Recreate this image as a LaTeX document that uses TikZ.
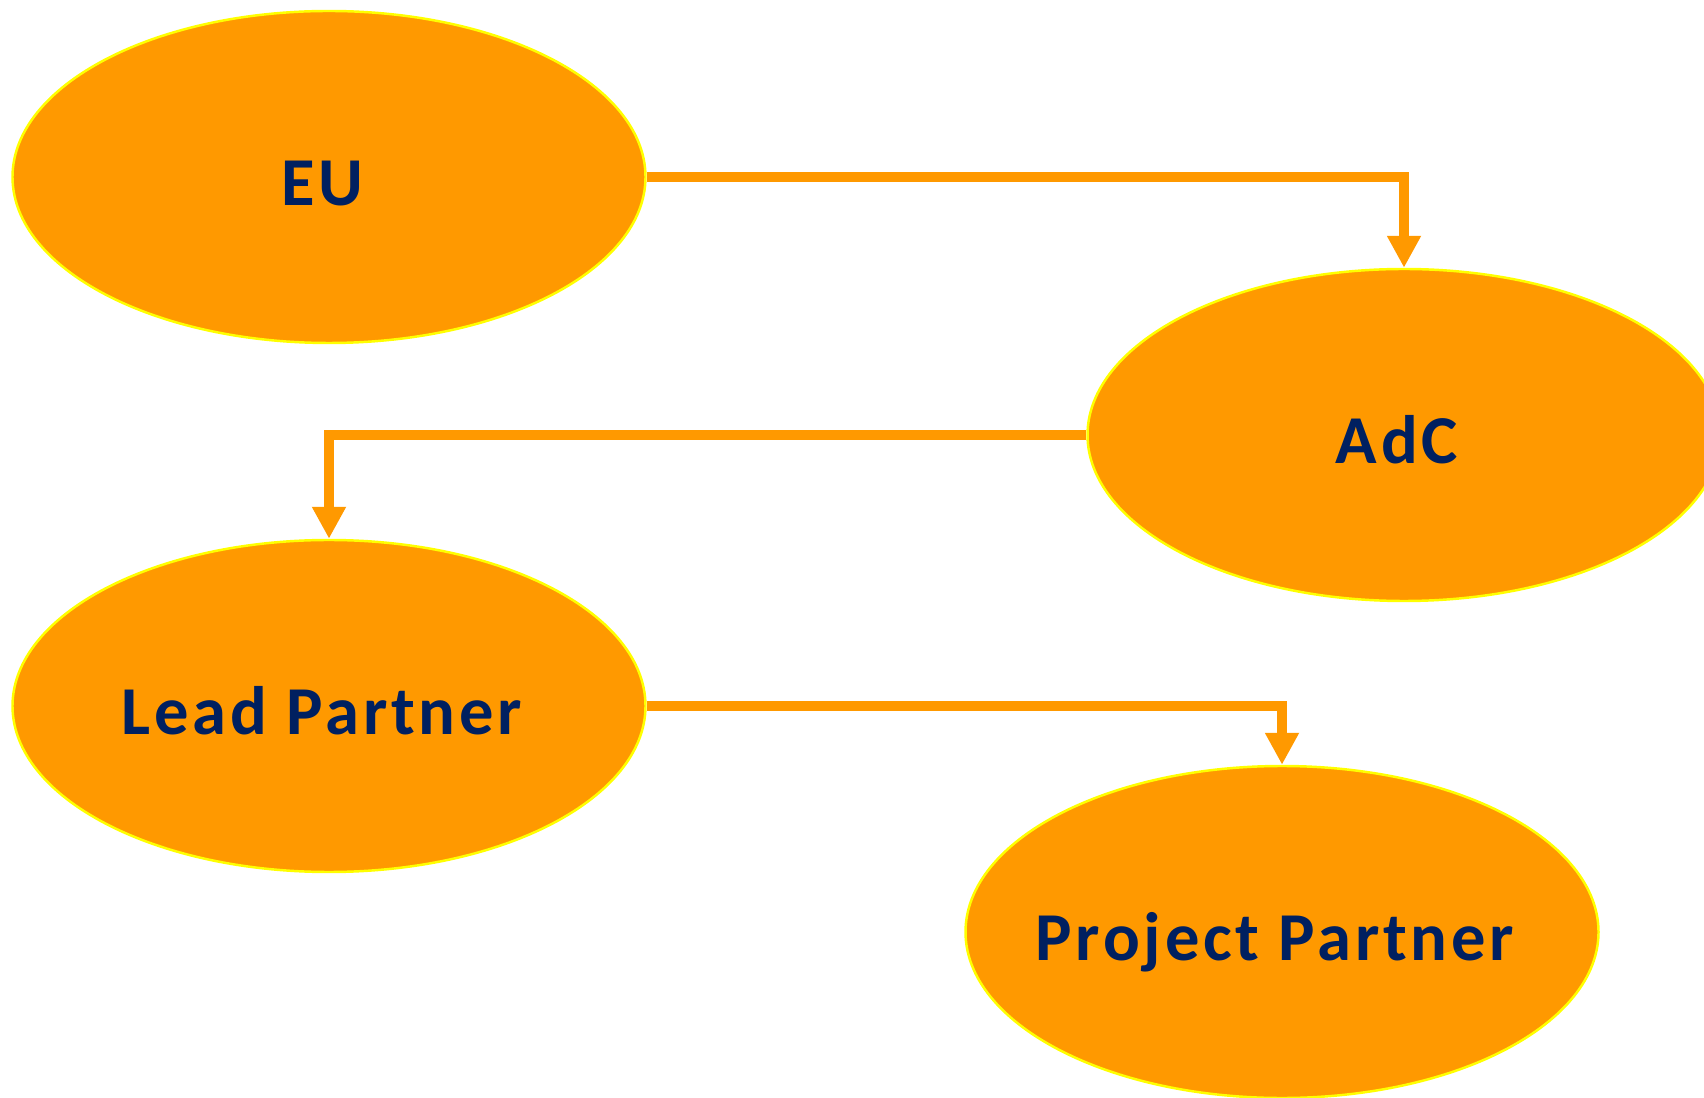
\documentclass[tikz,border=0pt]{standalone}
\usepackage{fontspec}
\setmainfont[LetterSpace=5.5]{Carlito}
\usetikzlibrary{arrows.meta}
\usetikzlibrary{shapes}
\definecolor{boxfill}{HTML}{FF9900}
\definecolor{boxline}{HTML}{FFFF00}
\definecolor{labeltext}{HTML}{002060}
\tikzset{
    actor/.style={ellipse, fill=boxfill, draw=boxline, line width=0.7pt, minimum width=6.33cm, minimum height=3.32cm, inner xsep=-0.5cm, inner ysep=0pt, text height=0.57cm, text depth=0pt, text=labeltext, font=\fontsize{19.5}{23}\selectfont\bfseries, execute at end node={\hspace{0.14cm}}},
    flow/.style={-{Triangle[width=0.32cm, length=0.32cm]}, boxfill, line width=0.105cm}
}

\begin{document}
\begin{tikzpicture}
            \useasboundingbox (0,0) rectangle (17.04,10.97);
            \node[actor] (eu) at (3.29,9.20) {EU};
            \node[actor] (adc) at (14.04,6.62) {AdC};
            \node[actor] (lead) at (3.29,3.91) {Lead Partner};
            \node[actor] (project) at (12.82,1.65) {Project Partner};
            \draw[flow] (eu.east) -| (adc.north);
            \draw[flow] (adc.west) -| (lead.north);
            \draw[flow] (lead.east) -| (project.north);
        \end{tikzpicture}
\end{document}
